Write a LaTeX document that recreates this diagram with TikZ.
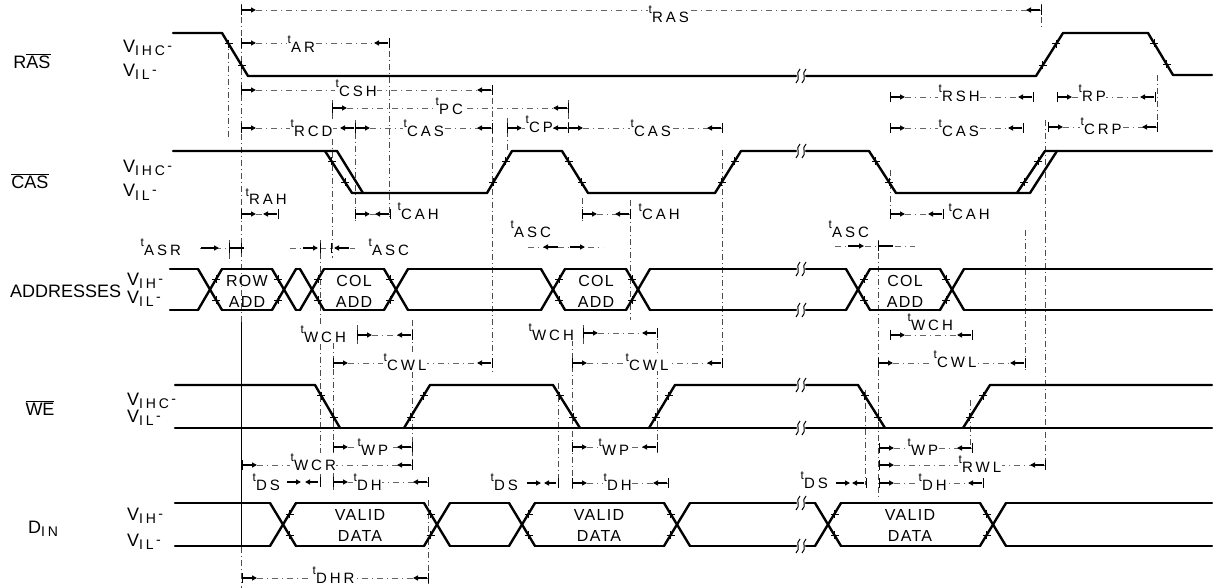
\documentclass[tikz,border=0pt]{standalone}
\usepackage{fontspec}
\setmainfont{Liberation Sans}
\newfontfamily\capf{Liberation Sans}[LetterSpace=20]
\usetikzlibrary{calc,arrows.meta}
\pgfdeclarelayer{bg}
\pgfdeclarelayer{lab}
\pgfsetlayers{bg,lab,main}

\newcommand\T[1]{\raisebox{9pt}{\fontsize{12}{12}\selectfont t}{\fontsize{15}{15}\capf #1}}
\newcommand\VV[1]{{\fontsize{18}{18}\selectfont V}\raisebox{-3pt}{\fontsize{14}{14}\capf #1}}
\newcommand\lv[1]{\VV{#1}{\fontsize{14}{14}\selectfont\,\raisebox{2pt}{-}}}

\tikzset{
 wave/.style={line width=2.4pt, line cap=round, line join=round},
 dimln/.style={line width=0.6pt, black!60, dash pattern=on 6pt off 4pt on 1pt off 4pt},
 arrpc/.style={line width=1.6pt, -{Triangle[length=5pt,width=5pt]}},
 dbar/.style={line width=0.9pt},
 refln/.style={line width=0.6pt, black!70, dash pattern=on 6pt off 3pt on 1pt off 3pt},
 tlbl/.style={anchor=base west, inner sep=0.5pt, fill=white},
 lvl/.style={anchor=base west, inner sep=0pt},
 rowlbl/.style={inner sep=0pt, font=\fontsize{18}{20}\selectfont},
 databox/.style={align=center, inner sep=0pt, font=\fontsize{16}{21}\selectfont\addfontfeature{LetterSpace=8}},
 tick/.style={line width=0.7pt},
 brkm/.style={line width=1pt},
}

\newcommand\dimIn[3]{%
 \begin{pgfonlayer}{bg}\draw[dimln] (#1,#3) -- (#2,#3);\end{pgfonlayer}
 \draw[dbar] (#1,#3-5) -- (#1,#3+5) (#2,#3-5) -- (#2,#3+5);
 \draw[arrpc] (#1+1,#3) -- (#1+15,#3);
 \draw[arrpc] (#2-1,#3) -- (#2-15,#3);}
\newcommand\slp[4]{\draw[tick] ($(#1,#2)!0.25!(#3,#4)$) +(-4,0) -- +(4,0) +(0,-4) -- +(0,4)
   ($(#1,#2)!0.75!(#3,#4)$) +(-4,0) -- +(4,0) +(0,-4) -- +(0,4);}
\newcommand\brk[1]{\draw[brkm] (796,#1+7) .. controls (801,#1+3) and (795,#1-3) .. (800,#1-7);
  \draw[brkm] (802,#1+7) .. controls (807,#1+3) and (801,#1-3) .. (806,#1-7);}

\begin{document}
\begin{tikzpicture}[x=1pt,y=-1pt]
\useasboundingbox (0,0) rectangle (1218,588);

% ---------------- reference lines
\begin{pgfonlayer}{bg}
\draw[refln] (241,4) -- (241,322);
\draw[line width=1pt] (241,322) -- (241,547);
\draw[refln] (241,547) -- (241,588);
\foreach \x/\a/\b in {228/40/140, 229/240/262, 389/38/218, 332/100/258, 333/330/490,
  320/240/480, 355/120/222, 357/325/345, 492/85/372, 507/118/150, 568/100/135,
  582/198/222, 572/340/490, 583/325/345, 630/200/320, 657/330/455, 558/383/487,
  412/320/470, 428/500/585, 722/150/370, 865/390/485, 878/240/500, 890/170/222,
  970/400/450, 1025/230/370, 1045/120/470, 1157/75/128, 1041/4/30}
  \draw[refln] (\x,\a) -- (\x,\b);
\end{pgfonlayer}

% ---------------- row labels
\node[rowlbl] (ras) at (32,61) {R$\overline{\hbox{AS}}$};
\node[rowlbl] (cas) at (30,181) {$\overline{\hbox{CAS}}$};
\node[rowlbl, anchor=base west] (addr) at (10,297) {ADDRESSES};
\node[rowlbl] (we) at (40,408) {$\overline{\hbox{WE}}$};
\node[rowlbl, anchor=base west] (din) at (28,533) {D\raisebox{-3pt}{\fontsize{14}{14}\capf IN}};

% ---------------- level labels
\node[lvl] (l1) at (123,53) {\lv{IHC}};
\node[lvl] (l2) at (123,77) {\lv{IL}};
\node[lvl] (l3) at (123,173) {\lv{IHC}};
\node[lvl] (l4) at (123,197) {\lv{IL}};
\node[lvl] (l5) at (127,285) {\lv{IH}};
\node[lvl] (l6) at (127,303) {\lv{IL}};
\node[lvl] (l7) at (127,405) {\lv{IHC}};
\node[lvl] (l8) at (127,422) {\lv{IL}};
\node[lvl] (l9) at (127,520) {\lv{IH}};
\node[lvl] (l10) at (127,546) {\lv{IL}};

% ---------------- dimension lines
\dimIn{241}{1041}{10}
\dimIn{241}{389}{43}
\dimIn{241}{492}{90}
\dimIn{332}{568}{108}
\dimIn{241}{355}{128}
\dimIn{355}{492}{128}
\dimIn{507}{568}{128}
\dimIn{568}{722}{128}
\dimIn{890}{1033}{97}
\dimIn{1057}{1155}{97}
\dimIn{890}{1023}{128}
\dimIn{1048}{1157}{127}
\dimIn{241}{278}{214}
\dimIn{355}{390}{214}
\dimIn{582}{630}{214}
\dimIn{890}{943}{214}
\dimIn{357}{412}{335}
\dimIn{333}{492}{363}
\dimIn{583}{657}{333}
\dimIn{572}{722}{363}
\dimIn{890}{972}{335}
\dimIn{878}{1025}{363}
\dimIn{333}{412}{447}
\dimIn{242}{412}{465}
\dimIn{333}{428}{482}
\dimIn{572}{657}{447}
\dimIn{572}{668}{483}
\dimIn{879}{972}{448}
\dimIn{879}{1045}{465}
\dimIn{879}{983}{483}
\dimIn{242}{428}{578}
% tASR
\begin{pgfonlayer}{bg}\draw[dimln] (200,248) -- (245,248);\end{pgfonlayer}
\draw[arrpc] (201,248) -- (219,248);
\draw[dbar] (229,243) -- (229,253) (241,243) -- (241,253);
\draw[line width=1.6pt] (229,248) -- (244,248);
% tASC 1
\begin{pgfonlayer}{bg}\draw[dimln] (290,248) -- (355,248);\end{pgfonlayer}
\draw[arrpc] (303,248) -- (318,248);
\draw[dbar] (320,243) -- (320,253) (331,243) -- (331,253);
\draw[arrpc] (349,248) -- (334,248);
% tASC 2
\begin{pgfonlayer}{bg}\draw[dimln] (528,247) -- (603,247);\end{pgfonlayer}
\draw[arrpc] (558,247) -- (543,247);
\draw[arrpc] (570,247) -- (585,247);
% tASC 3
\begin{pgfonlayer}{bg}\draw[dimln] (835,246) -- (915,246);\end{pgfonlayer}
\draw[arrpc] (848,246) -- (864,246);
\draw[dbar] (878,241) -- (878,251);
\draw[line width=1.6pt] (878,246) -- (893,246);
% tDS 1..3
\draw[arrpc] (287,482) -- (301,482);
\draw[arrpc] (318,482) -- (305,482);
\draw[dbar] (320,477) -- (320,487);
\draw[arrpc] (527,483) -- (541,483);
\draw[arrpc] (556,483) -- (544,483);
\draw[dbar] (558,478) -- (558,488);
\draw[arrpc] (836,483) -- (850,483);
\draw[arrpc] (864,483) -- (852,483);
\draw[dbar] (866,478) -- (866,488);

% ---------------- timing labels
\begin{pgfonlayer}{lab}
\node[tlbl] (tras) at (648,23) {\T{RAS}};
\node[tlbl] (tar) at (287,53) {\T{AR}};
\node[tlbl] (tcsh) at (335,97) {\T{CSH}};
\node[tlbl] (tpc) at (435,115) {\T{PC}};
\node[tlbl] (trcd) at (290,137) {\T{RCD}};
\node[tlbl] (tcas1) at (403,137) {\T{CAS}};
\node[tlbl] (tcp) at (525,133) {\T{CP}};
\node[tlbl] (tcas2) at (630,137) {\T{CAS}};
\node[tlbl] (trsh) at (938,102) {\T{RSH}};
\node[tlbl] (trp) at (1078,102) {\T{RP}};
\node[tlbl] (tcas3) at (938,137) {\T{CAS}};
\node[tlbl] (tcrp) at (1080,135) {\T{CRP}};
\node[tlbl] (trah) at (245,205) {\T{RAH}};
\node[tlbl] (tcah1) at (397,219) {\T{CAH}};
\node[tlbl] (tcah2) at (638,220) {\T{CAH}};
\node[tlbl] (tcah3) at (948,220) {\T{CAH}};
\node[tlbl] (tasr) at (140,255) {\T{ASR}};
\node[tlbl] (tasc1) at (368,255) {\T{ASC}};
\node[tlbl] (tasc2) at (510,237) {\T{ASC}};
\node[tlbl] (tasc3) at (828,237) {\T{ASC}};
\node[tlbl] (twch1) at (300,342) {\T{WCH}};
\node[tlbl] (tcwl1) at (383,370) {\T{CWL}};
\node[tlbl] (twch2) at (528,340) {\T{WCH}};
\node[tlbl] (tcwl2) at (625,370) {\T{CWL}};
\node[tlbl] (twch3) at (907,330) {\T{WCH}};
\node[tlbl] (tcwl3) at (933,367) {\T{CWL}};
\node[tlbl] (twp1) at (357,455) {\T{WP}};
\node[tlbl] (twcr) at (290,470) {\T{WCR}};
\node[tlbl] (tds1) at (252,490) {\T{DS}};
\node[tlbl] (tdh1) at (353,490) {\T{DH}};
\node[tlbl] (twp2) at (598,455) {\T{WP}};
\node[tlbl] (tds2) at (490,490) {\T{DS}};
\node[tlbl] (tdh2) at (603,490) {\T{DH}};
\node[tlbl] (tds3) at (800,488) {\T{DS}};
\node[tlbl] (twp3) at (907,455) {\T{WP}};
\node[tlbl] (trwl) at (958,472) {\T{RWL}};
\node[tlbl] (tdh3) at (918,490) {\T{DH}};
\node[tlbl] (tdhr) at (312,583) {\T{DHR}};
\end{pgfonlayer}

% ---------------- waveforms
% RAS
\draw[wave] (173,33) -- (222,33) -- (248,76) -- (796,76);
\draw[wave] (806,76) -- (1036,76) -- (1063,33) -- (1148,33) -- (1173,75) -- (1212,75);
\slp{222}{33}{248}{76} \slp{1036}{76}{1063}{33} \slp{1148}{33}{1173}{75}
% CAS
\draw[wave] (173,151) -- (337,151) -- (363,193) -- (487,193) -- (512,151) -- (562,151) -- (588,193) -- (715,193) -- (741,151) -- (796,151);
\draw[wave] (325,151) -- (352,193) -- (363,193);
\draw[wave] (806,151) -- (869,151) -- (896,193) -- (1030,193) -- (1057,151) -- (1212,151);
\draw[wave] (1017,193) -- (1045,151) -- (1057,151);
\slp{325}{151}{352}{193} \slp{487}{193}{512}{151} \slp{562}{151}{588}{193}
\slp{715}{193}{741}{151} \slp{869}{151}{896}{193} \slp{1017}{193}{1045}{151}
% ADDRESSES
\foreach \c in {210,284,312,396,553,638,858,952} {
  \draw[wave] (\c-12,269) -- (\c+12,310);
  \draw[wave] (\c-12,310) -- (\c+12,269);}
\foreach \a/\b in {170/198, 222/272, 296/300, 324/384, 408/541, 565/626, 650/796, 806/846, 870/940, 964/1212} {
  \draw[wave] (\a,269) -- (\b,269);
  \draw[wave] (\a,310) -- (\b,310);}
\foreach \c/\s in {210/1,284/-1,312/1,396/-1,553/1,638/-1,858/1,952/-1}
  \draw[tick] (\c+6*\s,279) +(-4,0) -- +(4,0) +(0,-4) -- +(0,4)
              (\c+6*\s,300) +(-4,0) -- +(4,0) +(0,-4) -- +(0,4);
\node[databox] (rowadd) at (247,291) {ROW\\ADD};
\node[databox] (coladd1) at (354,291) {COL\\ADD};
\node[databox] (coladd2) at (596,291) {COL\\ADD};
\node[databox] (coladd3) at (905,291) {COL\\ADD};
% WE
\draw[wave] (175,385) -- (315,385) -- (340,428);
\draw[wave] (404,428) -- (430,385) -- (553,385) -- (580,428);
\draw[wave] (649,428) -- (675,385) -- (796,385);
\draw[wave] (806,385) -- (858,385) -- (885,428);
\draw[wave] (963,428) -- (990,385) -- (1212,385);
\draw[wave] (175,428) -- (796,428);
\draw[wave] (806,428) -- (1212,428);
\slp{315}{385}{340}{428} \slp{404}{428}{430}{385} \slp{553}{385}{580}{428}
\slp{649}{428}{675}{385} \slp{858}{385}{885}{428} \slp{963}{428}{990}{385}
% DIN
\foreach \c in {283,437,522,677,828,993} {
  \draw[wave] (\c-13,503) -- (\c+13,546);
  \draw[wave] (\c-13,546) -- (\c+13,503);}
\foreach \a/\b in {175/270, 296/424, 450/509, 535/664, 690/796, 806/815, 841/980, 1006/1212} {
  \draw[wave] (\a,503) -- (\b,503);
  \draw[wave] (\a,546) -- (\b,546);}
\foreach \c/\s in {283/1,437/-1,522/1,677/-1,828/1,993/-1}
  \draw[tick] (\c+6.5*\s,514) +(-4,0) -- +(4,0) +(0,-4) -- +(0,4)
              (\c+6.5*\s,535) +(-4,0) -- +(4,0) +(0,-4) -- +(0,4);
\node[databox] (vd1) at (360,525) {VALID\\DATA};
\node[databox] (vd2) at (599,525) {VALID\\DATA};
\node[databox] (vd3) at (910,525) {VALID\\DATA};

% ---------------- break marks
\foreach \y in {76,151,269,310,385,428,503,546} {\brk{\y}}
\end{tikzpicture}
\end{document}
